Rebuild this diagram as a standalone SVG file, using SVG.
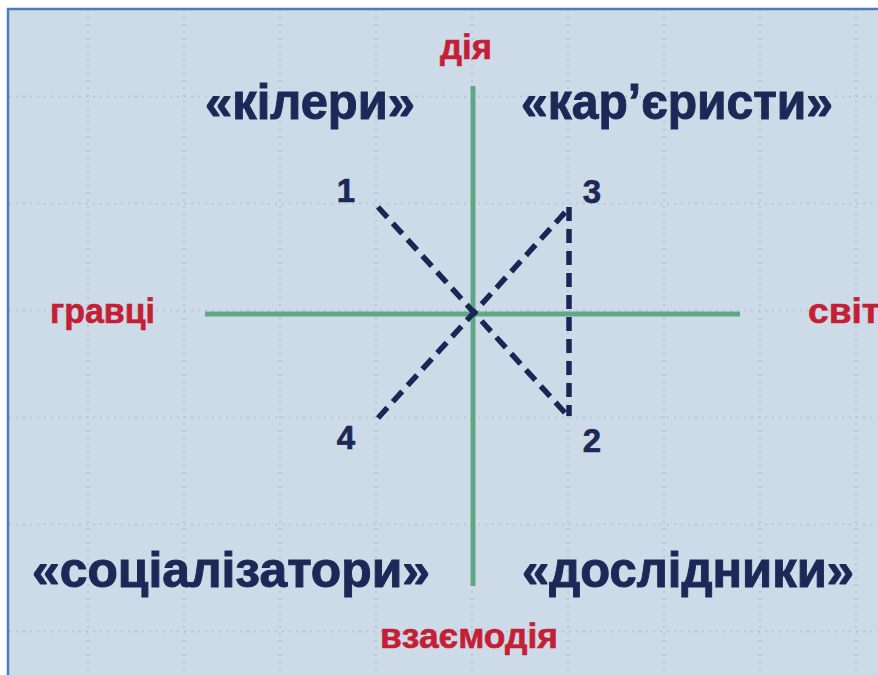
<svg xmlns="http://www.w3.org/2000/svg" width="878" height="675" viewBox="0 0 878 675">
<defs>
<style>
.grid{stroke:#b3c1d1;stroke-width:1.5;stroke-dasharray:2 5;fill:none}
.axis{stroke:#5fa883;stroke-width:5;fill:none}
.dash{stroke:#1a2654;stroke-width:5.5;stroke-dasharray:14 8;fill:none}
.big{font-family:"Liberation Sans",Arial,sans-serif;font-weight:bold;font-size:50px;fill:#1c2957;stroke:#1c2957;stroke-width:1;text-anchor:middle}
.red{font-family:"Liberation Sans Narrow","Liberation Sans",Arial,sans-serif;font-weight:bold;font-size:35px;fill:#c41f35;stroke:#c41f35;stroke-width:0.6}
.num{font-family:"Liberation Sans",Arial,sans-serif;font-weight:bold;font-size:33px;fill:#1c2957;stroke:#1c2957;stroke-width:0.6;text-anchor:middle}
</style>
</defs>
<rect x="0" y="0" width="878" height="675" fill="#ffffff"/>
<rect x="8" y="9" width="870" height="666" fill="#cddbe9"/>
<g id="grid">
<path class="grid" d="M88 10V675M184 10V675M280 10V675M376 10V675M472 10V675M568 10V675M664 10V675M760 10V675M856 10V675"/>
<path class="grid" d="M9 96.5H878M9 203.5H878M9 310.5H878M9 417.5H878M9 524.5H878M9 631.5H878"/>
</g>
<path d="M8 675V9H878" fill="none" stroke="#4a7ec0" stroke-width="2.5"/>
<g id="axes">
<line class="axis" x1="473" y1="86" x2="473" y2="586"/>
<line class="axis" x1="205" y1="314" x2="740" y2="314"/>
</g>
<g id="connectors">
<line class="dash" x1="378" y1="207" x2="567" y2="415"/>
<line class="dash" x1="378" y1="418" x2="570" y2="207"/>
<line class="dash" x1="569" y1="207" x2="569" y2="416"/>
</g>
<g id="n1"><text class="num" x="346" y="202">1</text></g>
<g id="n3"><text class="num" x="592" y="203">3</text></g>
<g id="n4"><text class="num" x="346" y="449">4</text></g>
<g id="n2"><text class="num" x="592" y="452">2</text></g>
<g id="killers"><text class="big" x="310" y="119" textLength="210" lengthAdjust="spacingAndGlyphs">«кілери»</text></g>
<g id="achievers"><text class="big" x="677" y="119" textLength="312" lengthAdjust="spacingAndGlyphs">«кар’єристи»</text></g>
<g id="socializers"><text class="big" x="231" y="587" textLength="398" lengthAdjust="spacingAndGlyphs">«соціалізатори»</text></g>
<g id="explorers"><text class="big" x="688" y="587" textLength="332" lengthAdjust="spacingAndGlyphs">«дослідники»</text></g>
<g id="action"><text class="red" x="440" y="59" textLength="52" lengthAdjust="spacingAndGlyphs">дія</text></g>
<g id="players"><text class="red" x="50" y="323" textLength="105" lengthAdjust="spacingAndGlyphs">гравці</text></g>
<g id="world"><text class="red" x="808" y="323" textLength="72" lengthAdjust="spacingAndGlyphs">світ</text></g>
<g id="interaction"><text class="red" x="380" y="648" textLength="178" lengthAdjust="spacingAndGlyphs">взаємодія</text></g>
</svg>
